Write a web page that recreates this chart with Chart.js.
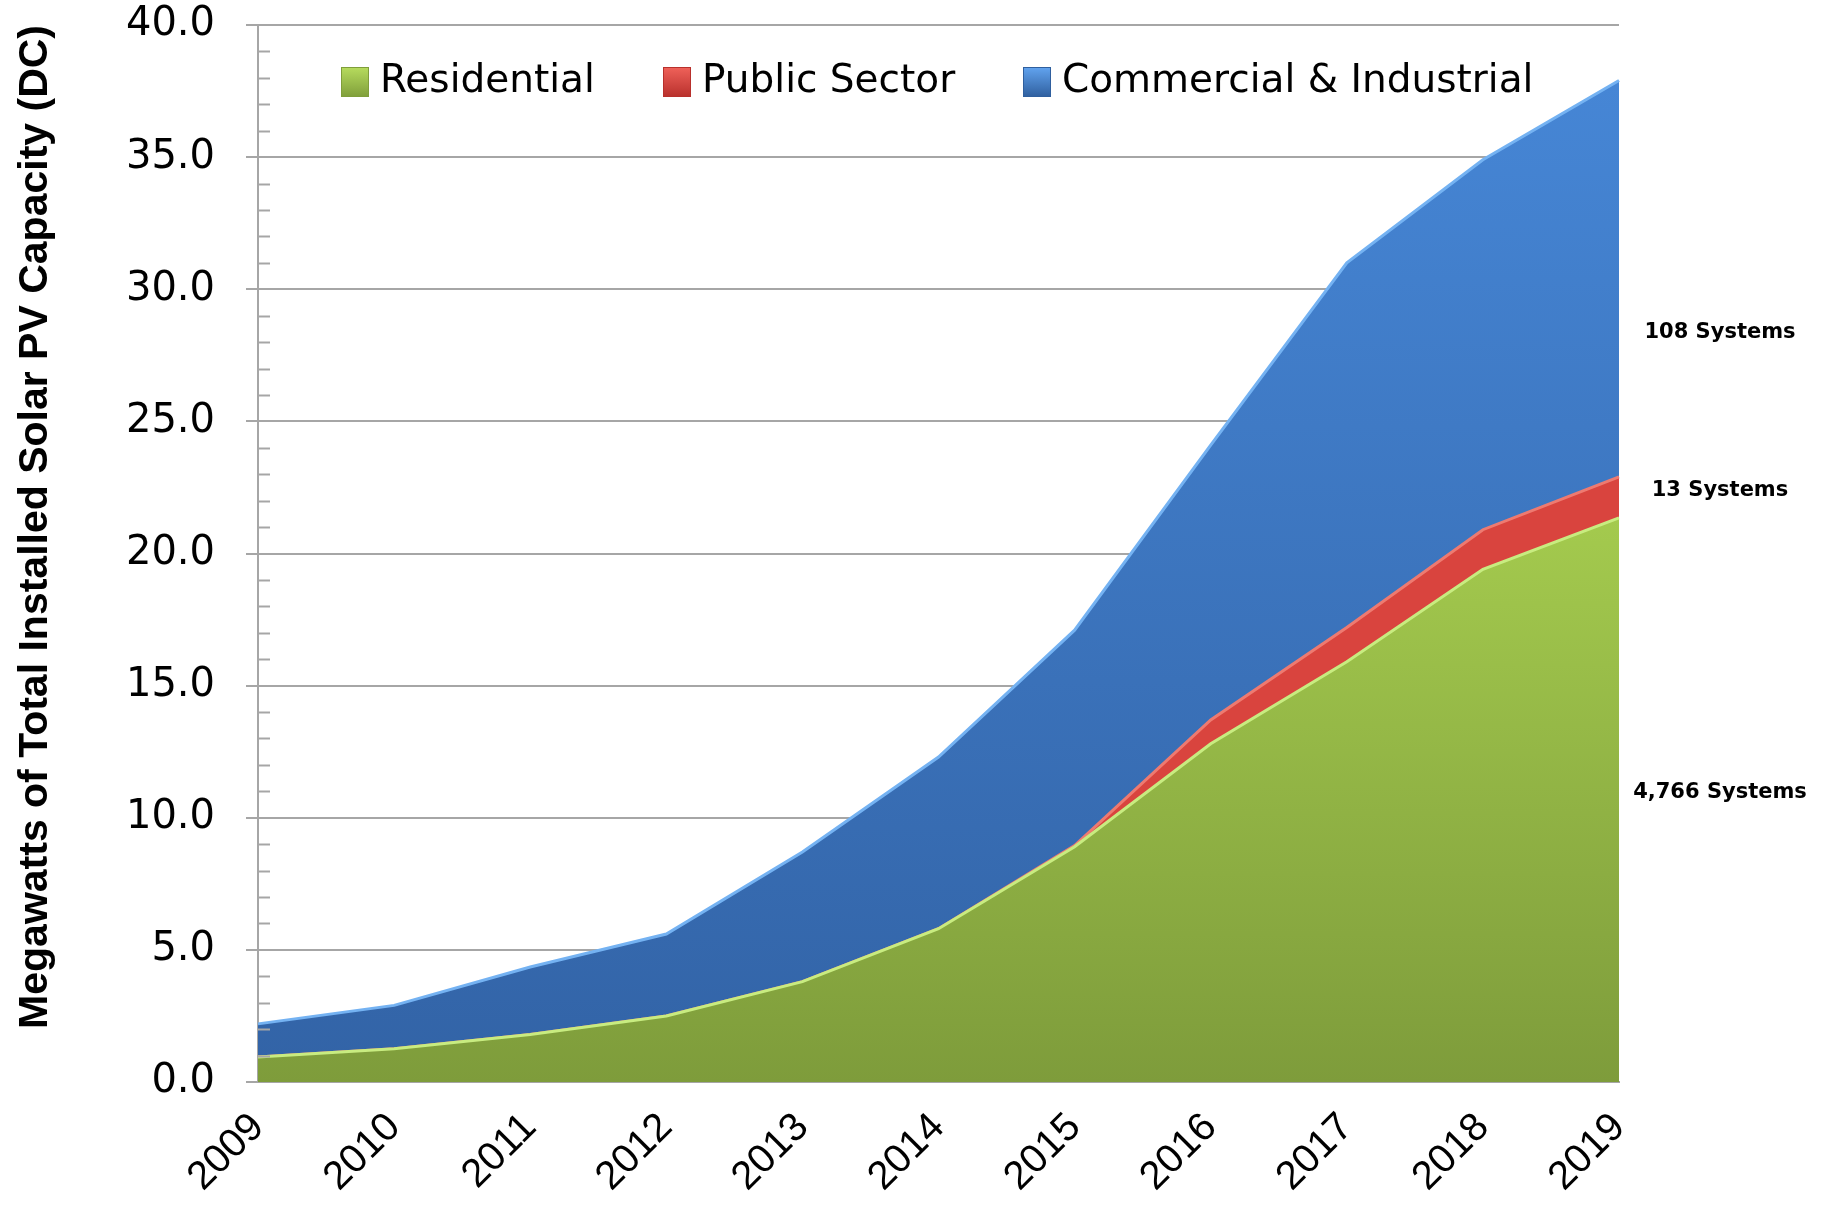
<!DOCTYPE html>
<html>
<head>
<meta charset="utf-8">
<script src="https://cdn.jsdelivr.net/npm/chart.js@4.4.1/dist/chart.umd.min.js"></script>
<style>
  body { margin: 0; background: #fff; }
  #wrap { width: 1824px; height: 1215px; }
</style>
</head>
<body>
<div id="wrap"><canvas id="solarChart" width="1824" height="1215"></canvas></div>
<script>
const years = ['2009', '2010', '2011', '2012', '2013', '2014', '2015', '2016', '2017', '2018', '2019'];
const residential = [0.95, 1.26, 1.8, 2.5, 3.8, 5.8, 8.9, 12.8, 15.9, 19.4, 21.35];
const publicSector = [0, 0, 0, 0, 0, 0, 0.05, 0.9, 1.3, 1.5, 1.55];
const commercial = [1.25, 1.64, 2.55, 3.1, 4.9, 6.5, 8.15, 10.4, 13.8, 14.0, 15.0];
const seriesNames = ['Residential', 'Public Sector', 'Commercial & Industrial'];
const systemCounts = ['4,766 Systems', '13 Systems', '108 Systems'];

const gridGrey = '#a6a6a6';

function vGrad(context, stops, fallback) {
    const chart = context.chart;
    const area = chart.chartArea;
    if (!area) return fallback;
    const g = chart.ctx.createLinearGradient(0, area.top, 0, area.bottom);
    stops.forEach(function(s) { g.addColorStop(s[0], s[1]); });
    return g;
}

// minor tick marks inside the y axis, every 1.0
const minorTicks = {
    id: 'minorTicks',
    afterDraw(chart) {
        const ctx = chart.ctx;
        const y = chart.scales.y;
        ctx.save();
        ctx.strokeStyle = gridGrey;
        ctx.lineWidth = 2;
        for (let v = y.min; v <= y.max; v += 1) {
            if (v % 5 === 0) continue;
            const py = Math.round(y.getPixelForValue(v)) + 0.5;
            ctx.beginPath();
            ctx.moveTo(y.right, py);
            ctx.lineTo(y.right + 12, py);
            ctx.stroke();
        }
        ctx.restore();
    }
};

// legend drawn inside the plot area
const innerLegend = {
    id: 'innerLegend',
    afterDraw(chart) {
        const ctx = chart.ctx;
        const xs = [341, 663, 1023];
        const colors = [['#b7dc5e', '#7f9e3a'], ['#f0625a', '#b8302c'], ['#62a4f0', '#2f5f9e']];
        ctx.save();
        ctx.font = '39px "DejaVu Sans"';
        ctx.textBaseline = 'middle';
        chart.data.datasets.forEach(function(ds, i) {
            const g = ctx.createLinearGradient(0, 67, 0, 97);
            g.addColorStop(0, colors[i][0]);
            g.addColorStop(1, colors[i][1]);
            ctx.fillStyle = g;
            ctx.fillRect(xs[i], 67, 28, 30);
            ctx.strokeStyle = colors[i][1];
            ctx.lineWidth = 1;
            ctx.strokeRect(xs[i] + 0.5, 67.5, 27, 29);
            ctx.fillStyle = '#000';
            ctx.fillText(ds.label, xs[i] + 39, 82);
        });
        ctx.restore();
    }
};

// system counts to the right of the plot
const countLabels = {
    id: 'countLabels',
    afterDraw(chart, args, opts) {
        const ctx = chart.ctx;
        const y = chart.scales.y;
        const x = chart.chartArea.right + 101;
        ctx.save();
        ctx.font = 'bold 21px "DejaVu Sans"';
        ctx.textAlign = 'center';
        ctx.textBaseline = 'middle';
        ctx.fillStyle = '#000';
        opts.labels.forEach(function(t, i) {
            ctx.fillText(t, x, y.getPixelForValue(opts.at[i]));
        });
        ctx.restore();
    }
};

const ctx = document.getElementById('solarChart').getContext('2d');

const solarChart = new Chart(ctx, {
    type: 'line',
    data: {
        labels: years,
        datasets: [{
            label: seriesNames[0],
            data: residential,
            fill: 'origin',
            backgroundColor: function(c) { return vGrad(c, [[0.35, '#acd452'], [1, '#7e9c3b']], '#9bc24a'); },
            borderColor: '#c8ec80',
            borderWidth: 3
        }, {
            label: seriesNames[1],
            data: publicSector,
            fill: '-1',
            backgroundColor: '#d9443e',
            borderColor: '#ee7a70',
            borderWidth: 3
        }, {
            label: seriesNames[2],
            data: commercial,
            fill: '-1',
            backgroundColor: function(c) { return vGrad(c, [[0, '#4788d8'], [1, '#3263a6']], '#3d78c4'); },
            borderColor: '#74b2f2',
            borderWidth: 3
        }]
    },
    options: {
        responsive: false,
        animation: false,
        events: [],
        layout: { padding: { top: 25, right: 205, bottom: 0, left: 0 } },
        elements: {
            point: { radius: 0 },
            line: { tension: 0 }
        },
        plugins: {
            legend: { display: false },
            tooltip: { enabled: false },
            countLabels: {
                labels: systemCounts,
                at: [10.95, 22.4, 28.35]
            }
        },
        scales: {
            x: {
                offset: false,
                grid: { display: false, drawTicks: false },
                border: { display: true, color: gridGrey, width: 2 },
                ticks: {
                    autoSkip: false,
                    minRotation: 45,
                    maxRotation: 45,
                    padding: 22,
                    color: '#000',
                    font: { family: '"Liberation Sans", Arial, sans-serif', size: 40 }
                },
                afterFit: function(scale) {
                    scale.height = 133;
                    scale.paddingLeft = 0;
                    scale.paddingRight = 0;
                }
            },
            y: {
                stacked: true,
                min: 0,
                max: 40,
                grid: { color: gridGrey, lineWidth: 2, tickLength: 12 },
                border: { display: true, color: gridGrey, width: 2 },
                ticks: {
                    stepSize: 5,
                    padding: 31,
                    color: '#000',
                    font: { family: '"DejaVu Sans", sans-serif', size: 40 },
                    callback: function(v) { return v.toFixed(1); }
                },
                title: {
                    display: true,
                    text: 'Megawatts of Total Installed Solar PV Capacity (DC)',
                    align: 'end',
                    color: '#000',
                    padding: { top: 11, bottom: 0 },
                    font: { family: '"Liberation Sans", Arial, sans-serif', size: 41, weight: 'bold' }
                },
                afterFit: function(scale) {
                    scale.width = 258;
                    scale.paddingTop = 0;
                    scale.paddingBottom = 0;
                }
            }
        }
    },
    plugins: [minorTicks, innerLegend, countLabels]
});
</script>
</body>
</html>
